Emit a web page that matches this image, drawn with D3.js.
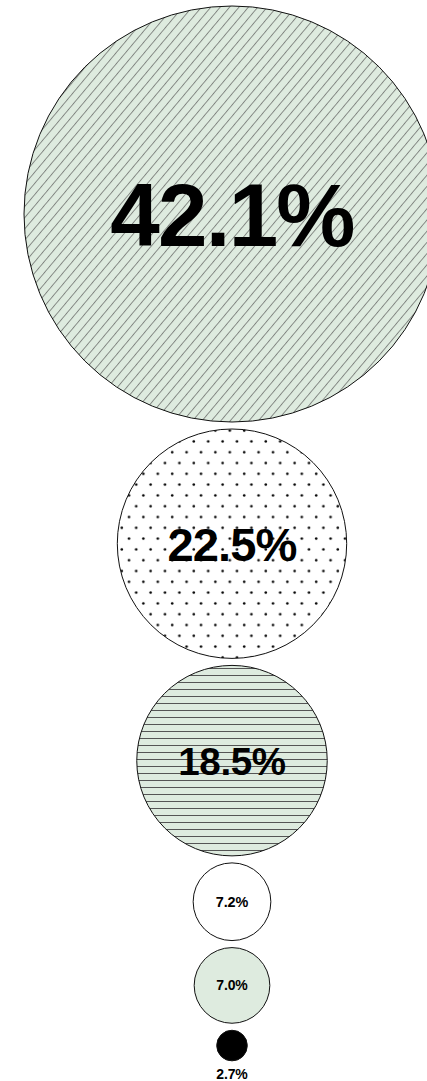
<!DOCTYPE html>
<html>
<head>
<meta charset="utf-8">
<script src="https://cdn.jsdelivr.net/npm/d3@7"></script>
<style>
  html, body { margin: 0; padding: 0; background: #ffffff; overflow: hidden; }
  svg { display: block; }
  text { font-family: "Liberation Sans", Arial, Helvetica, sans-serif; font-weight: bold; }
</style>
</head>
<body>
<div id="chart"></div>
<script>
// ---- data ----
const categories = ["A", "B", "C", "D", "E", "F"];
const values = [42.1, 22.5, 18.5, 7.2, 7.0, 2.7];
const labels = ["42.1%", "22.5%", "18.5%", "7.2%", "7.0%", "2.7%"];

// ---- styles (kept separate from data) ----
const fillStyles = ["diag", "dots", "horiz", "white", "green", "black"];

const W = 427, H = 1081;
const green = "#deebdf";

const svg = d3.select("#chart").append("svg")
  .attr("width", W).attr("height", H);

const defs = svg.append("defs");

// diagonal lines pattern
const pDiag = defs.append("pattern")
  .attr("id", "diag").attr("patternUnits", "userSpaceOnUse")
  .attr("width", 7.2).attr("height", 20)
  .attr("patternTransform", "rotate(40)");
pDiag.append("rect").attr("width", 7.2).attr("height", 20).attr("fill", green);
pDiag.append("line").attr("x1", 0.5).attr("x2", 0.5).attr("y1", 0).attr("y2", 20)
  .attr("stroke", "#5a5a5a").attr("stroke-width", 0.7);

// dotted pattern (staggered)
const pDots = defs.append("pattern")
  .attr("id", "dots").attr("patternUnits", "userSpaceOnUse")
  .attr("width", 14.4).attr("height", 21.6)
  .attr("x", 3).attr("y", 4);
pDots.append("rect").attr("width", 14.4).attr("height", 21.6).attr("fill", "#ffffff");
pDots.append("circle").attr("cx", 3.6).attr("cy", 5.4).attr("r", 1.3).attr("fill", "#000");
pDots.append("circle").attr("cx", 10.8).attr("cy", 16.2).attr("r", 1.3).attr("fill", "#000");

// horizontal lines pattern
const pHor = defs.append("pattern")
  .attr("id", "horiz").attr("patternUnits", "userSpaceOnUse")
  .attr("width", 20).attr("height", 7);
pHor.append("rect").attr("width", 20).attr("height", 7).attr("fill", green);
pHor.append("line").attr("x1", 0).attr("x2", 20).attr("y1", 3.5).attr("y2", 3.5)
  .attr("stroke", "#555").attr("stroke-width", 1);

const fillFor = s => ({
  diag: "url(#diag)", dots: "url(#dots)", horiz: "url(#horiz)",
  white: "#ffffff", green: green, black: "#000000"
})[s];

// ---- scales ----
const rScale = d3.scalePow().exponent(0.95)
  .domain([0, d3.max(values)]).range([0, 208]);
const fontScale = d3.scaleLinear()
  .domain([7, d3.max(values)]).range([14, 89]).clamp(true);

// stacked vertical layout computed from radii
const centerX = 232, startY = 6, gapY = 7;
const data = values.map((v, i) => ({
  cat: categories[i], value: v, label: labels[i], style: fillStyles[i], r: rScale(v)
}));
let cursor = startY;
data.forEach(d => { d.cy = cursor + d.r; cursor += 2 * d.r + gapY; });

const g = svg.append("g");

g.selectAll("circle.bubble")
  .data(data)
  .join("circle")
  .attr("class", "bubble")
  .attr("cx", centerX)
  .attr("cy", d => d.cy)
  .attr("r", d => d.r)
  .attr("fill", d => fillFor(d.style))
  .attr("stroke", "#111")
  .attr("stroke-width", 1);

g.selectAll("text.lbl")
  .data(data)
  .join("text")
  .attr("class", "lbl")
  .attr("x", centerX)
  .attr("y", d => d.style === "black" ? d.cy + d.r + 18 : d.cy)
  .attr("text-anchor", "middle")
  .attr("dy", d => d.style === "black" ? 0 : "0.36em")
  .attr("font-size", d => fontScale(d.value))
  .attr("letter-spacing", d => d.value > 20 ? "-0.02em" : "-0.01em")
  .attr("fill", "#000")
  .text(d => d.label);
</script>
</body>
</html>
